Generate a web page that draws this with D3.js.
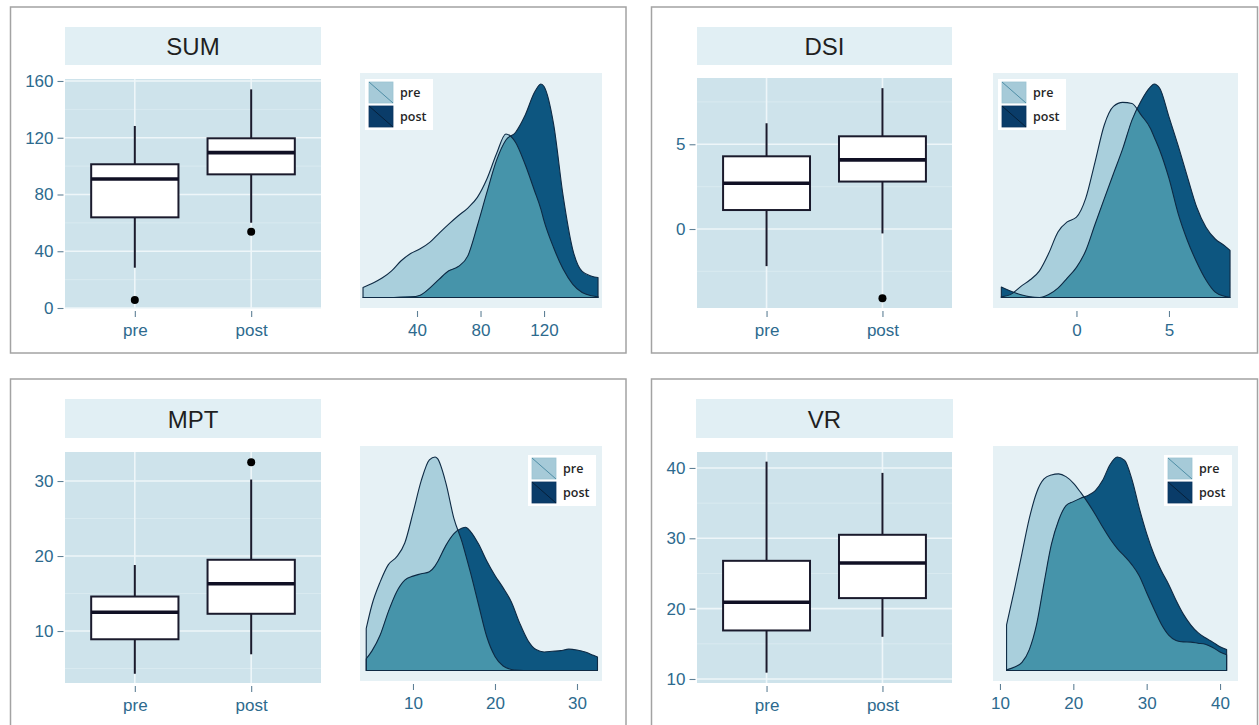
<!DOCTYPE html>
<html>
<head>
<meta charset="utf-8">
<script src="https://cdn.jsdelivr.net/npm/d3@7"></script>
<style>
  body { margin: 0; background: #ffffff; }
  svg { display: block; }
</style>
</head>
<body>
<svg id="chart" width="1259" height="725"></svg>
<script>
// ---------- data ----------
const groups = ["pre", "post"];
const facetNames = ["SUM", "DSI", "MPT", "VR"];

// box plot statistics: [lower whisker, Q1, median, Q3, upper whisker]
const sumPreBox  = [28.4, 63.9, 90.9, 101.3, 128.3];
const sumPostBox = [60.1, 94.2, 109.5, 119.6, 154.1];
const sumPreOut  = [5.6];
const sumPostOut = [53.8];

const dsiPreBox  = [-2.19, 1.12, 2.70, 4.29, 6.24];
const dsiPostBox = [-0.26, 2.80, 4.08, 5.47, 8.31];
const dsiPreOut  = [];
const dsiPostOut = [-4.09];

const mptPreBox  = [4.3, 8.9, 12.5, 14.6, 18.8];
const mptPostBox = [6.9, 12.3, 16.3, 19.5, 30.2];
const mptPreOut  = [];
const mptPostOut = [32.5];

const vrPreBox  = [10.9, 16.9, 20.9, 26.8, 40.9];
const vrPostBox = [16.0, 21.5, 26.5, 30.5, 39.3];
const vrPreOut  = [];
const vrPostOut = [];

// axis tick labels
const sumYTicks = [0, 40, 80, 120, 160];
const dsiYTicks = [0, 5];
const mptYTicks = [10, 20, 30];
const vrYTicks  = [10, 20, 30, 40];

const sumDensTicks = [40, 80, 120];
const dsiDensTicks = [0, 5];
const mptDensTicks = [10, 20, 30];
const vrDensTicks  = [10, 20, 30, 40];

// kernel density estimates (relative to each facet's peak, in %)
const sumGrid    = [6, 12, 18, 24, 30, 36, 42, 48, 54, 60, 66, 72, 78, 84, 90, 96, 102, 108, 114, 118, 120, 126, 132, 138, 144, 150, 154];
const sumPreDen  = [4.7, 6.7, 9.1, 12.5, 17.2, 20.6, 22.8, 25.8, 30.2, 34.4, 38.3, 41.9, 46.9, 55.5, 67.2, 76.6, 72.7, 62.5, 50.0, 41.4, 35.9, 23.4, 13.3, 6.3, 2.3, 0.8, 0.3];
const sumPostDen = [0, 0, 0, 0, 0.2, 0.3, 1.1, 4.4, 8.6, 12.5, 14.5, 19.5, 33.6, 49.2, 64.1, 73.8, 77.3, 85.2, 96.1, 100, 98.8, 81.3, 47.7, 22.7, 12.2, 10.0, 9.4];

const dsiGrid    = [-4.06, -3.5, -3, -2.5, -2, -1.5, -1, -0.5, 0, 0.5, 1, 1.5, 2, 2.5, 3, 3.5, 4, 4.2, 4.5, 5, 5.5, 6, 6.5, 7, 7.5, 8, 8.3];
const dsiPreDen  = [0.3, 1.7, 5.2, 8.3, 12.5, 20.7, 30.7, 35.4, 37.6, 46.4, 63.3, 80.7, 89.5, 91.4, 90.9, 85.4, 79.2, 75.2, 69.0, 55.8, 39.2, 26.6, 16.5, 8.2, 2.5, 0.6, 0];
const dsiPostDen = [4.9, 2.8, 1.3, 0.3, 0, 1.4, 4.4, 9.1, 14.1, 21.9, 34.2, 46.2, 58.0, 69.7, 83.1, 92.2, 98.7, 100, 98.0, 84.6, 71.0, 56.4, 42.3, 32.9, 27.4, 24.3, 22.1];

const mptGrid    = [4.3, 5, 6, 7, 8, 9, 10, 11, 12, 12.7, 13, 14, 15, 16, 16.4, 17, 18, 19, 20, 21, 22, 23, 24, 25, 26, 27, 28, 29, 30, 31, 32, 32.5];
const mptPreDen  = [19.7, 30.8, 41.5, 49.6, 53.2, 59.7, 73.8, 88.8, 98.7, 100, 99.2, 88.0, 71.1, 60.0, 54.5, 46.1, 30.8, 15.8, 6.6, 2.1, 0.5, 0.1, 0, 0, 0, 0, 0, 0, 0, 0, 0, 0];
const mptPostDen = [5.5, 9.2, 16.6, 27.6, 36.8, 42.3, 44.2, 45.3, 46.3, 49.0, 50.9, 58.5, 64.1, 66.7, 67.1, 65.2, 59.2, 51.3, 44.5, 38.7, 32.1, 22.3, 14.2, 9.8, 8.7, 9.0, 9.3, 10.0, 9.6, 8.7, 7.1, 6.3];

const vrGrid    = [10.9, 12, 13, 14, 15, 16, 17, 18, 19, 20, 21, 22, 23, 24, 25, 26, 27, 28, 29, 30, 31, 32, 33, 34, 35, 36, 37, 38, 39, 40, 40.9];
const vrPreDen  = [21.4, 38.4, 54.9, 71.2, 83.4, 89.7, 91.6, 92.1, 90.8, 87.8, 83.4, 78.5, 73.1, 67.2, 61.7, 57.1, 53.5, 49.5, 44.3, 36.4, 28.8, 21.7, 16.6, 14.1, 13.4, 13.3, 12.8, 12.3, 10.8, 8.7, 7.4];
const vrPostDen = [0.3, 1.6, 3.8, 9.8, 21.7, 40.8, 58.9, 70.4, 77.2, 79.1, 80.7, 82.0, 84.3, 89.1, 96.4, 100, 98.4, 89.4, 75.9, 64.1, 54.3, 46.7, 40.3, 32.9, 26.4, 21.4, 17.7, 15.3, 13.3, 11.1, 9.8];

// ---------- layout ----------
const ROW2 = 373;
const facets = [
  { name: facetNames[0], dy: 0, frame: [10.5, 7, 626, 353],
    strip: [65, 27, 321, 65], box: [65, 79, 321, 308], dens: [360, 73, 602, 308],
    yDomain: [0, 161.4], xDomain: [4.1, 156.5], legendSide: "left",
    boxes: [sumPreBox, sumPostBox], outs: [sumPreOut, sumPostOut],
    yTicks: sumYTicks, dTicks: sumDensTicks, grid: sumGrid, pre: sumPreDen, post: sumPostDen },
  { name: facetNames[1], dy: 0, frame: [651.5, 7, 1257.5, 353],
    strip: [697, 27, 952, 65], box: [697, 78, 952, 308], dens: [993, 73, 1238, 308],
    yDomain: [-4.66, 8.91], xDomain: [-4.51, 8.73], legendSide: "left",
    boxes: [dsiPreBox, dsiPostBox], outs: [dsiPreOut, dsiPostOut],
    yTicks: dsiYTicks, dTicks: dsiDensTicks, grid: dsiGrid, pre: dsiPreDen, post: dsiPostDen },
  { name: facetNames[2], dy: ROW2, frame: [10.5, 379, 626, 760],
    strip: [65, 26, 321, 65], box: [65, 79, 321, 310], dens: [360, 73, 602, 308],
    yDomain: [3.07, 33.87], xDomain: [3.54, 33.05], legendSide: "right",
    boxes: [mptPreBox, mptPostBox], outs: [mptPreOut, mptPostOut],
    yTicks: mptYTicks, dTicks: mptDensTicks, grid: mptGrid, pre: mptPreDen, post: mptPostDen },
  { name: facetNames[3], dy: ROW2, frame: [651.5, 379, 1257.5, 760],
    strip: [696, 26, 953, 65], box: [697, 79, 952, 310], dens: [993, 73, 1238, 308],
    yDomain: [9.43, 42.27], xDomain: [9.05, 42.45], legendSide: "right",
    boxes: [vrPreBox, vrPostBox], outs: [vrPreOut, vrPostOut],
    yTicks: vrYTicks, dTicks: vrDensTicks, grid: vrGrid, pre: vrPreDen, post: vrPostDen }
];

// ---------- style ----------
const C = {
  frame: "#a3a3a3",
  strip: "#e1eff4",
  boxPanel: "#cee3eb",
  densPanel: "#e6f1f5",
  gridMajor: "#eef6f9",
  gridMinor: "#d9eaf0",
  tickText: "#2d6a8e",
  tickLine: "#5f8096",
  title: "#1f1f1f",
  boxLine: "#1a1a2c",
  preFill: "#a9cfdc",
  postFill: "#0d5680",
  overlap: "#4694aa",
  outline: "#0e2a44",
  legendPre: "#a6cad8",
  legendPost: "#0a3c69"
};
const tickFont = "'Liberation Sans', Arial, sans-serif";

const svg = d3.select("#chart");
const defs = svg.append("defs");

facets.forEach((f, fi) => drawFacet(f, fi));

function drawFacet(f, fi) {
  const root = svg.append("g");
  // panel frame
  root.append("rect")
    .attr("x", f.frame[0]).attr("y", f.frame[1])
    .attr("width", f.frame[2] - f.frame[0]).attr("height", f.frame[3] - f.frame[1])
    .attr("fill", "none").attr("stroke", C.frame).attr("stroke-width", 1.5);

  const g = root.append("g").attr("transform", `translate(0,${f.dy})`);

  // facet strip
  const [sx0, sy0, sx1, sy1] = f.strip;
  g.append("rect").attr("x", sx0).attr("y", sy0).attr("width", sx1 - sx0).attr("height", sy1 - sy0)
    .attr("fill", C.strip);
  g.append("text").attr("x", (sx0 + sx1) / 2).attr("y", sy1 - 10)
    .attr("text-anchor", "middle").attr("font-family", tickFont).attr("font-size", 24)
    .attr("fill", C.title).text(f.name);

  drawBoxPanel(g, f);
  drawDensityPanel(g, f, fi);
}

function styleAxis(ax) {
  ax.select(".domain").remove();
  ax.selectAll(".tick line").attr("stroke", C.tickLine).attr("stroke-width", 1.1);
  ax.selectAll(".tick text").attr("fill", C.tickText).attr("font-family", tickFont).attr("font-size", 17);
}

function drawBoxPanel(g, f) {
  const [x0, y0, x1, y1] = f.box;
  const y = d3.scaleLinear().domain(f.yDomain).range([y1, y0]);
  const x = d3.scalePoint().domain(groups).range([x0, x1]).padding(0.6);

  g.append("rect").attr("x", x0).attr("y", y0).attr("width", x1 - x0).attr("height", y1 - y0)
    .attr("fill", C.boxPanel);

  const step = f.yTicks[1] - f.yTicks[0];
  const minors = d3.range(f.yTicks[0] - step / 2, f.yDomain[1], step)
    .filter(v => v > f.yDomain[0] && v < f.yDomain[1]);
  g.selectAll(null).data(minors).join("line")
    .attr("x1", x0).attr("x2", x1).attr("y1", d => y(d)).attr("y2", d => y(d))
    .attr("stroke", C.gridMinor).attr("stroke-width", 1);
  g.selectAll(null).data(f.yTicks).join("line")
    .attr("x1", x0).attr("x2", x1).attr("y1", d => y(d)).attr("y2", d => y(d))
    .attr("stroke", C.gridMajor).attr("stroke-width", 1.6);
  g.selectAll(null).data(groups).join("line")
    .attr("x1", d => x(d)).attr("x2", d => x(d)).attr("y1", y0).attr("y2", y1)
    .attr("stroke", C.gridMajor).attr("stroke-width", 1.6);

  const bw = x.step() * 0.75;
  groups.forEach((grp, i) => {
    const s = f.boxes[i];
    const cx = x(grp);
    const bg = g.append("g");
    bg.append("line").attr("x1", cx).attr("x2", cx).attr("y1", y(s[0])).attr("y2", y(s[1]))
      .attr("stroke", C.boxLine).attr("stroke-width", 2);
    bg.append("line").attr("x1", cx).attr("x2", cx).attr("y1", y(s[3])).attr("y2", y(s[4]))
      .attr("stroke", C.boxLine).attr("stroke-width", 2);
    bg.append("rect").attr("x", cx - bw / 2).attr("y", y(s[3])).attr("width", bw)
      .attr("height", y(s[1]) - y(s[3]))
      .attr("fill", "#ffffff").attr("stroke", C.boxLine).attr("stroke-width", 2);
    bg.append("line").attr("x1", cx - bw / 2).attr("x2", cx + bw / 2)
      .attr("y1", y(s[2])).attr("y2", y(s[2]))
      .attr("stroke", "#101024").attr("stroke-width", 3.6);
    bg.selectAll(null).data(f.outs[i]).join("circle")
      .attr("cx", cx).attr("cy", d => y(d)).attr("r", 4).attr("fill", "#000");
  });

  const ay = g.append("g").attr("transform", `translate(${x0 - 1.5},0)`)
    .call(d3.axisLeft(y).tickValues(f.yTicks).tickSize(6).tickPadding(4));
  styleAxis(ay);
  const ax = g.append("g").attr("transform", `translate(0,${y1 + 3})`)
    .call(d3.axisBottom(x).tickSize(6).tickPadding(7));
  styleAxis(ax);
}

function drawDensityPanel(g, f, fi) {
  const [x0, y0, x1, y1] = f.dens;
  g.append("rect").attr("x", x0).attr("y", y0).attr("width", x1 - x0).attr("height", y1 - y0)
    .attr("fill", C.densPanel);

  const xd = d3.scaleLinear().domain(f.xDomain).range([x0, x1]);
  const maxV = d3.max(f.pre.concat(f.post));
  const yd = d3.scaleLinear().domain([0, maxV]).range([y1 - 10.5, y0 + 11]);

  const area = d3.area()
    .x((d, i) => xd(f.grid[i]))
    .y0(yd(0))
    .y1(d => yd(d))
    .curve(d3.curveMonotoneX);

  // region where both densities overlap = pre area clipped by post area
  const clipId = "overlap-" + fi;
  defs.append("clipPath").attr("id", clipId)
    .append("path").attr("d", area(f.post));

  g.append("path").attr("d", area(f.pre)).attr("fill", C.preFill);
  g.append("path").attr("d", area(f.post)).attr("fill", C.postFill);
  g.append("path").attr("d", area(f.pre)).attr("fill", C.overlap)
    .attr("clip-path", `url(#${clipId})`);
  g.append("path").attr("d", area(f.pre)).attr("fill", "none")
    .attr("stroke", C.outline).attr("stroke-width", 1.1).attr("stroke-linejoin", "round");
  g.append("path").attr("d", area(f.post)).attr("fill", "none")
    .attr("stroke", C.outline).attr("stroke-width", 1.1).attr("stroke-linejoin", "round");

  const ax = g.append("g").attr("transform", `translate(0,${y1 + 3})`)
    .call(d3.axisBottom(xd).tickValues(f.dTicks).tickSize(6).tickPadding(7));
  styleAxis(ax);

  // legend
  const lw = 68, lh = 51;
  const lx = f.legendSide === "left" ? x0 + 5 : x1 - lw - 6;
  const ly = f.legendSide === "left" ? y0 + 6 : y0 + 9;
  const lg = g.append("g").attr("transform", `translate(${lx},${ly})`);
  lg.append("rect").attr("width", lw).attr("height", lh).attr("fill", "#ffffff");
  const keyFill = [C.legendPre, C.legendPost];
  const keyLine = ["#4f8ea6", "#06203a"];
  groups.forEach((grp, i) => {
    const ky = 3 + i * 24;
    lg.append("rect").attr("x", 4).attr("y", ky).attr("width", 24).attr("height", 21)
      .attr("fill", keyFill[i]).attr("stroke", i === 0 ? "#9cc4d3" : "#0a3560").attr("stroke-width", 0.8);
    lg.append("line").attr("x1", 4).attr("y1", ky).attr("x2", 28).attr("y2", ky + 21)
      .attr("stroke", keyLine[i]).attr("stroke-width", 1);
    lg.append("text").attr("x", 35).attr("y", ky + 14.5)
      .attr("font-family", "'Open Sans', sans-serif").attr("font-weight", 600)
      .attr("font-size", 12.5).attr("fill", "#262626").text(grp);
  });
}
</script>
</body>
</html>
